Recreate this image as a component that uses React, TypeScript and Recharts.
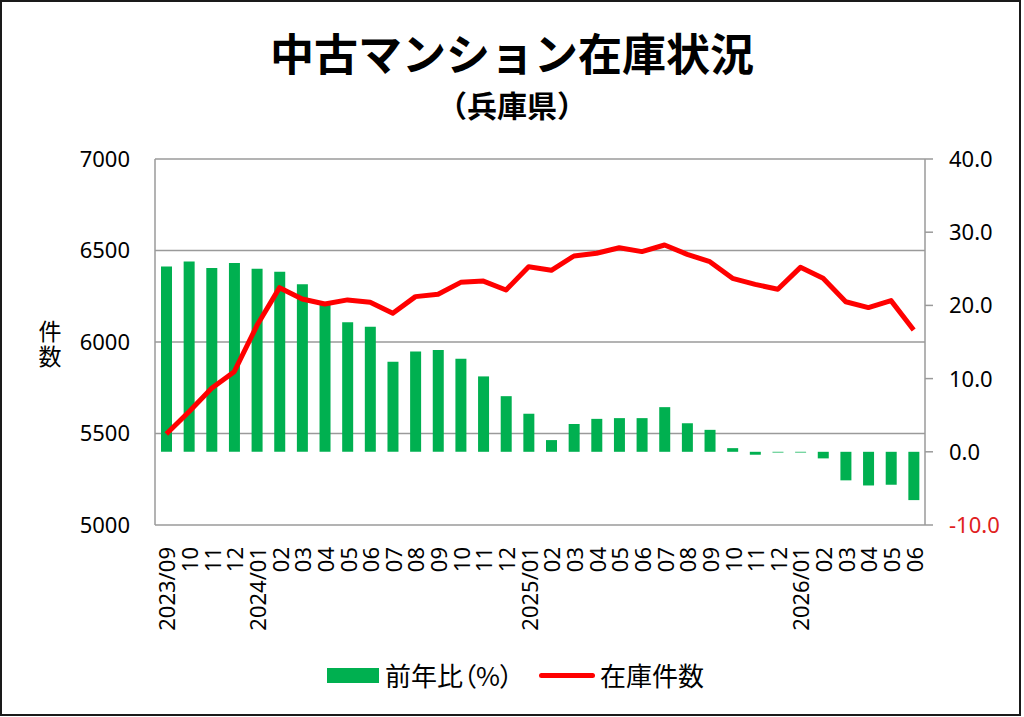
import React from 'react';
import {
  ComposedChart,
  Bar,
  Line,
  XAxis,
  YAxis,
  CartesianGrid,
} from 'recharts';

const months = [
  '2023/09', '10', '11', '12',
  '2024/01', '02', '03', '04', '05', '06', '07', '08', '09', '10', '11', '12',
  '2025/01', '02', '03', '04', '05', '06', '07', '08', '09', '10', '11', '12',
  '2026/01', '02', '03', '04', '05', '06',
];

// 前年比（%）
const yoyRate = [
  25.3, 26.0, 25.1, 25.8, 25.0, 24.6, 22.9, 20.3, 17.7, 17.1, 12.3, 13.7,
  13.9, 12.7, 10.3, 7.6, 5.2, 1.6, 3.8, 4.5, 4.6, 4.6, 6.1, 3.9,
  3.0, 0.5, -0.4, -0.1, -0.1, -0.9, -3.9, -4.6, -4.5, -6.6,
];

// 在庫件数
const stockCount = [
  5497, 5619, 5747, 5838, 6090, 6297, 6235, 6208, 6230, 6217, 6157, 6248,
  6261, 6326, 6333, 6284, 6411, 6392, 6470, 6485, 6515, 6494, 6530, 6479,
  6439, 6348, 6315, 6288, 6408, 6348, 6220, 6188, 6226, 6066,
];

const leftTicks = [5000, 5500, 6000, 6500, 7000];
const rightTicks = [-10, 0, 10, 20, 30, 40];

const chartData = months.map((m, i) => ({
  month: m,
  yoy: yoyRate[i],
  stock: stockCount[i],
}));

const numFont = '"Noto Sans", sans-serif';
const jpFont = '"Noto Sans CJK JP", sans-serif';

function MonthTick(props: any) {
  const { x, y, payload } = props;
  return (
    <text
      x={x}
      y={y}
      transform={`rotate(-90, ${x}, ${y})`}
      textAnchor="end"
      dominantBaseline="central"
      fontFamily={numFont}
      fontSize={22}
      fill="#000"
    >
      {payload.value}
    </text>
  );
}

function RightTick(props: any) {
  const { x, y, payload } = props;
  const v = payload.value as number;
  return (
    <text
      x={x}
      y={y}
      dy="0.36em"
      textAnchor="start"
      fontFamily={numFont}
      fontSize={22}
      fill={v < 0 ? '#e02020' : '#000'}
    >
      {v.toFixed(1)}
    </text>
  );
}

const legendText: React.CSSProperties = {
  position: 'absolute',
  top: 658,
  lineHeight: '34px',
  fontFamily: jpFont,
  fontSize: 26,
  color: '#000',
  fontFeatureSettings: '"palt"',
  whiteSpace: 'nowrap',
};

export default function App() {
  return (
    <div
      style={{
        position: 'fixed',
        left: 0,
        top: 0,
        width: 1024,
        height: 717,
        background: '#fff',
      }}
    >
      <div
        style={{
          position: 'absolute',
          left: 0,
          top: 0,
          width: 1021,
          height: 716,
          border: '2px solid #1a1a1a',
          boxSizing: 'border-box',
        }}
      />
      <div
        style={{
          position: 'absolute',
          left: 0,
          width: 1024,
          top: 24,
          textAlign: 'center',
          fontFamily: jpFont,
          fontWeight: 700,
          fontSize: 44,
          lineHeight: '56px',
          color: '#000',
        }}
      >
        中古マンション在庫状況
      </div>
      <div
        style={{
          position: 'absolute',
          left: 0,
          width: 1024,
          top: 84,
          textAlign: 'center',
          fontFamily: jpFont,
          fontWeight: 700,
          fontSize: 30,
          lineHeight: '40px',
          color: '#000',
        }}
      >
        （兵庫県）
      </div>
      <div
        style={{
          position: 'absolute',
          left: 37,
          top: 320,
          width: 26,
          writingMode: 'vertical-rl',
          fontFamily: jpFont,
          fontSize: 23,
          lineHeight: '26px',
          letterSpacing: 2,
          color: '#000',
        }}
      >
        件数
      </div>

      <div style={{ position: 'absolute', left: 0, top: 0 }}>
        <ComposedChart
          width={1024}
          height={717}
          data={chartData}
          margin={{ top: 159, right: 0, bottom: 0, left: 0 }}
        >
          <CartesianGrid
            yAxisId="left"
            vertical={false}
            stroke="#9a9a9a"
            strokeWidth={1.5}
          />
          <XAxis
            dataKey="month"
            height={192}
            axisLine={false}
            tickLine={false}
            interval={0}
            tick={<MonthTick />}
            tickMargin={16}
          />
          <YAxis
            yAxisId="left"
            orientation="left"
            width={155}
            domain={[5000, 7000]}
            ticks={leftTicks}
            axisLine={{ stroke: '#9a9a9a', strokeWidth: 1.5 }}
            tickLine={false}
            tickSize={0}
            tickMargin={25}
            tick={{ fontFamily: numFont, fontSize: 22, fill: '#000' }}
          />
          <YAxis
            yAxisId="right"
            orientation="right"
            width={99}
            domain={[-10, 40]}
            ticks={rightTicks}
            axisLine={{ stroke: '#9a9a9a', strokeWidth: 1.5 }}
            tickLine={{ stroke: '#9a9a9a', strokeWidth: 1.5 }}
            tickSize={8}
            tickMargin={16}
            tick={<RightTick />}
          />
          <Bar
            yAxisId="right"
            dataKey="yoy"
            fill="#00B050"
            barSize={11}
            isAnimationActive={false}
          />
          <Line
            yAxisId="left"
            dataKey="stock"
            stroke="#ff0000"
            strokeWidth={5}
            strokeLinejoin="round"
            dot={false}
            type="linear"
            isAnimationActive={false}
          />
        </ComposedChart>
      </div>

      <div
        style={{
          position: 'absolute',
          left: 327,
          top: 668,
          width: 52,
          height: 15,
          background: '#00B050',
        }}
      />
      <div style={{ ...legendText, left: 385 }}>前年比（%）</div>
      <div
        style={{
          position: 'absolute',
          left: 539,
          top: 673,
          width: 56,
          height: 5,
          borderRadius: 3,
          background: '#ff0000',
        }}
      />
      <div style={{ ...legendText, left: 600 }}>在庫件数</div>
    </div>
  );
}
